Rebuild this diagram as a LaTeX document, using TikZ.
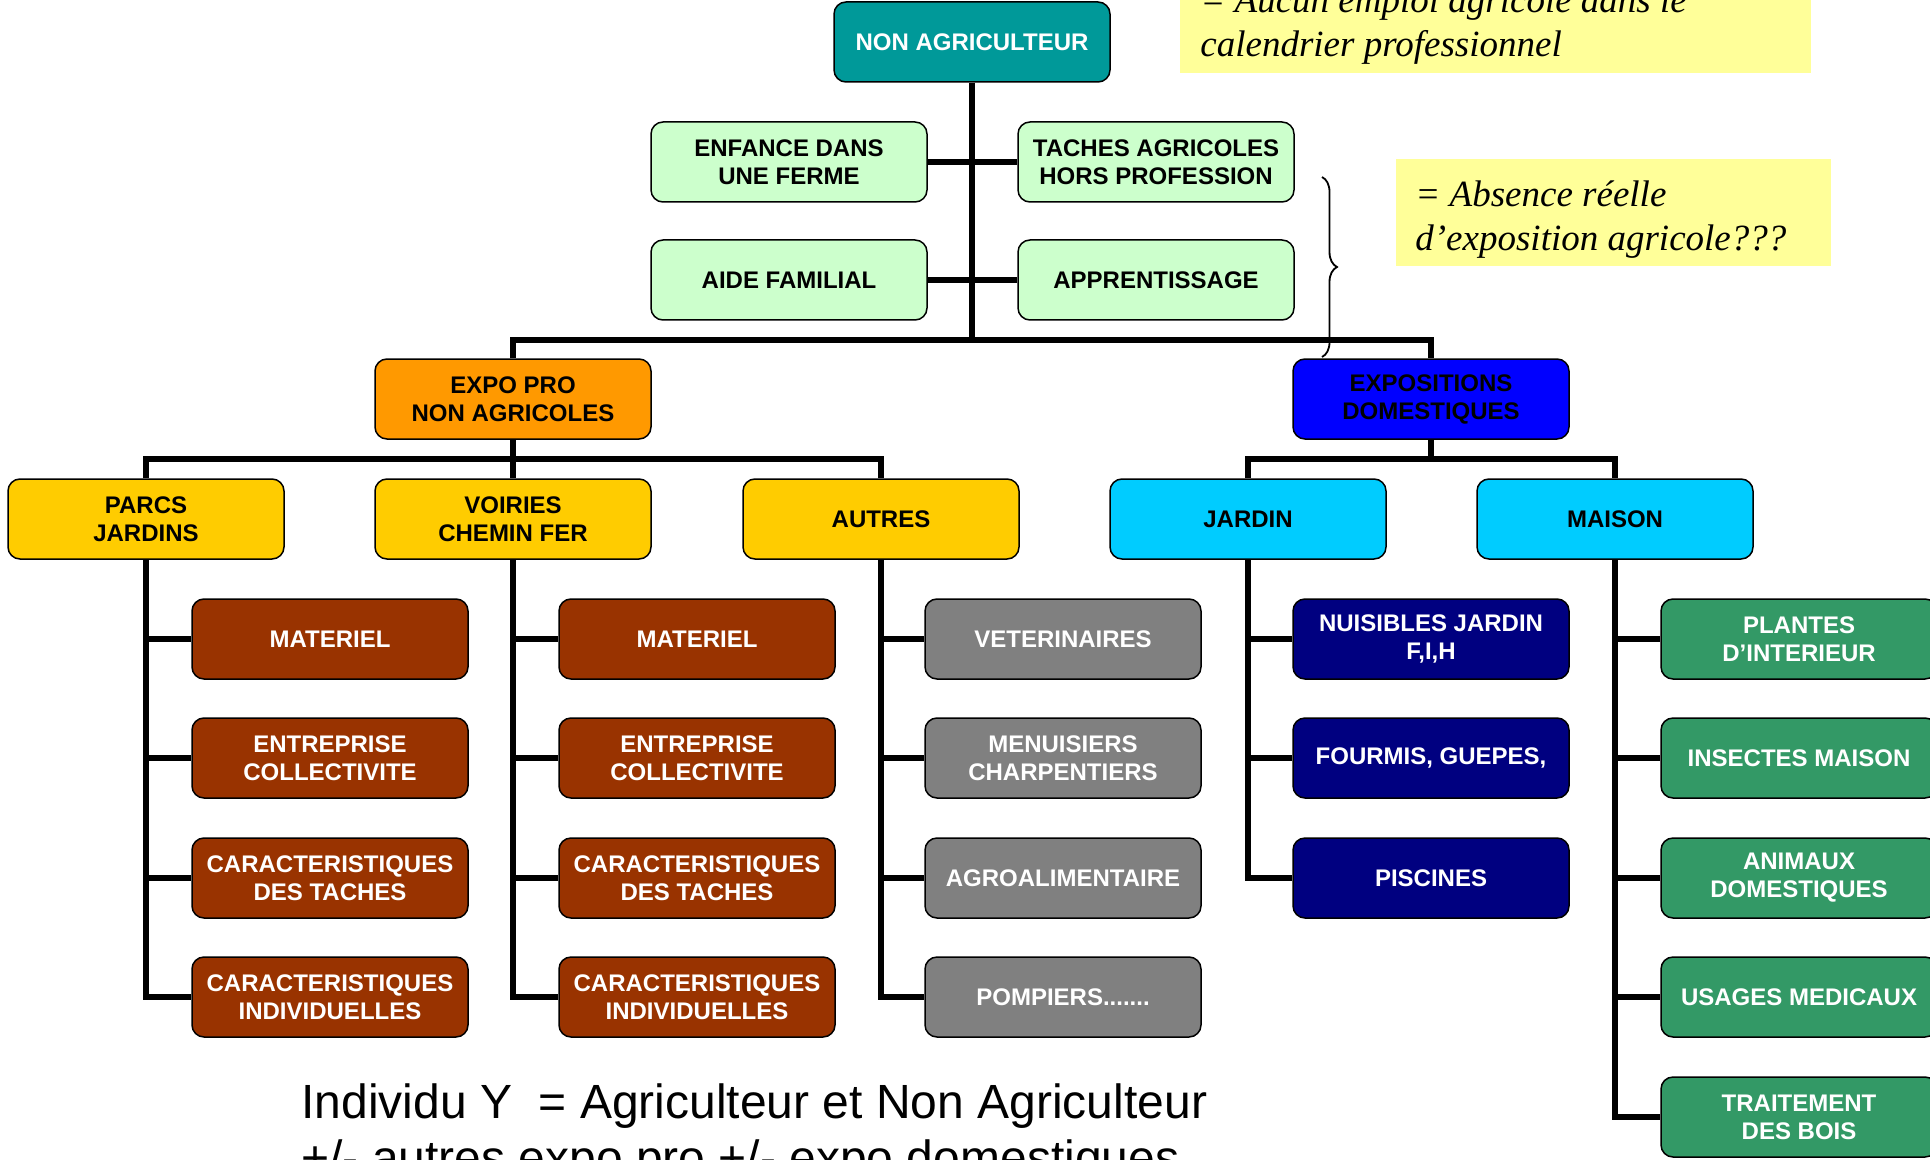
\documentclass[tikz,border=0pt]{standalone}
\usepackage{fontspec}
\setmainfont{Liberation Sans}
\newfontfamily\notefont{Liberation Serif}
\usetikzlibrary{decorations.pathreplacing}

\definecolor{tealbox}{HTML}{009999}
\definecolor{mintbox}{HTML}{CCFFCC}
\definecolor{orangebox}{HTML}{FF9900}
\definecolor{bluebox}{HTML}{0000FF}
\definecolor{goldbox}{HTML}{FFCC00}
\definecolor{skybox}{HTML}{00CCFF}
\definecolor{brownbox}{HTML}{993300}
\definecolor{greybox}{HTML}{808080}
\definecolor{navybox}{HTML}{000080}
\definecolor{leafbox}{HTML}{339966}
\definecolor{notefill}{HTML}{FFFF99}

\begin{document}
\begin{tikzpicture}[x=0.5pt,y=-0.5pt,
        box/.style={draw=black, line width=0.75pt, rounded corners=6pt,
            minimum width=138pt, minimum height=40pt, inner sep=0pt,
            align=center, font=\bfseries\fontsize{12}{14}\selectfont},
        darkbox/.style={box, text=white},
        link/.style={line width=3pt},
        notetext/.style={anchor=base west, inner sep=0pt,
            font=\notefont\itshape\fontsize{18.5}{22}\selectfont}]
                                    \clip (0,0) rectangle (1930,1160);

                                    % Draw the yellow notes
                                    \fill[notefill] (1180,-20) rectangle (1811,73);
                                    \node[notetext] (aucun1) at (1200,13) {= Aucun emploi agricole dans le};
                                    \node[notetext] (aucun2) at (1200,57) {calendrier professionnel};
                                    \fill[notefill] (1396,159) rectangle (1831,266);
                                    \node[notetext] (absence1) at (1415,207) {= Absence réelle};
                                    \node[notetext] (absence2) at (1415,251) {d’exposition agricole???};
                                    \draw[line width=0.9pt, decorate, decoration={brace, amplitude=7.5pt}] (1322,177) -- (1322,357);

                                    % Draw the top of the tree
                                    \node[darkbox, fill=tealbox] (nonagri) at (972,42) {NON AGRICULTEUR};
                                    \node[box, fill=mintbox] (enfance) at (789,162) {ENFANCE DANS\\UNE FERME};
                                    \node[box, fill=mintbox] (taches) at (1156,162) {TACHES AGRICOLES\\HORS PROFESSION};
                                    \node[box, fill=mintbox] (aide) at (789,280) {AIDE FAMILIAL};
                                    \node[box, fill=mintbox] (apprent) at (1156,280) {APPRENTISSAGE};
                                    \node[box, fill=orangebox] (expopro) at (513,399) {EXPO PRO\\NON AGRICOLES};
                                    \node[box, fill=bluebox] (expodom) at (1431,399) {EXPOSITIONS\\DOMESTIQUES};

                                    % Draw the second level
                                    \node[box, fill=goldbox] (parcs) at (146,519) {PARCS\\JARDINS};
                                    \node[box, fill=goldbox] (voiries) at (513,519) {VOIRIES\\CHEMIN FER};
                                    \node[box, fill=goldbox] (autres) at (881,519) {AUTRES};
                                    \node[box, fill=skybox] (jardin) at (1248,519) {JARDIN};
                                    \node[box, fill=skybox] (maison) at (1615,519) {MAISON};

                                    % Draw the leaves
                                    \node[darkbox, fill=brownbox] (parcsmat) at (330,639) {MATERIEL};
                                    \node[darkbox, fill=brownbox] (parcsent) at (330,758) {ENTREPRISE\\COLLECTIVITE};
                                    \node[darkbox, fill=brownbox] (parcstach) at (330,878) {CARACTERISTIQUES\\DES TACHES};
                                    \node[darkbox, fill=brownbox] (parcsind) at (330,997) {CARACTERISTIQUES\\INDIVIDUELLES};
                                    \node[darkbox, fill=brownbox] (voiriesmat) at (697,639) {MATERIEL};
                                    \node[darkbox, fill=brownbox] (voiriesent) at (697,758) {ENTREPRISE\\COLLECTIVITE};
                                    \node[darkbox, fill=brownbox] (voiriestach) at (697,878) {CARACTERISTIQUES\\DES TACHES};
                                    \node[darkbox, fill=brownbox] (voiriesind) at (697,997) {CARACTERISTIQUES\\INDIVIDUELLES};
                                    \node[darkbox, fill=greybox] (veto) at (1063,639) {VETERINAIRES};
                                    \node[darkbox, fill=greybox] (menuis) at (1063,758) {MENUISIERS\\CHARPENTIERS};
                                    \node[darkbox, fill=greybox] (agro) at (1063,878) {AGROALIMENTAIRE};
                                    \node[darkbox, fill=greybox] (pompiers) at (1063,997) {POMPIERS.......};
                                    \node[darkbox, fill=navybox] (nuisibles) at (1431,639) {NUISIBLES JARDIN\\F,I,H};
                                    \node[darkbox, fill=navybox] (fourmis) at (1431,758) {FOURMIS, GUEPES,};
                                    \node[darkbox, fill=navybox] (piscines) at (1431,878) {PISCINES};
                                    \node[darkbox, fill=leafbox] (plantes) at (1799,639) {PLANTES\\D’INTERIEUR};
                                    \node[darkbox, fill=leafbox] (insectes) at (1799,758) {INSECTES MAISON};
                                    \node[darkbox, fill=leafbox] (animaux) at (1799,878) {ANIMAUX\\DOMESTIQUES};
                                    \node[darkbox, fill=leafbox] (usages) at (1799,997) {USAGES MEDICAUX};
                                    \node[darkbox, fill=leafbox] (bois) at (1799,1117) {TRAITEMENT\\DES BOIS};

                                    % Draw the connectors
                                    \coordinate (topbar) at (972,340);
                                    \draw[link] (nonagri.south) -- (topbar);
                                    \draw[link] (expopro.north) |- (topbar) -| (expodom.north);
                                    \draw[link] (enfance.east) -- (enfance.east -| topbar);
                                    \draw[link] (taches.west) -- (taches.west -| topbar);
                                    \draw[link] (aide.east) -- (aide.east -| topbar);
                                    \draw[link] (apprent.west) -- (apprent.west -| topbar);
                                    \coordinate (probar) at (513,459);
                                    \draw[link] (expopro.south) -- (probar);
                                    \draw[link] (parcs.north) |- (probar) -| (autres.north);
                                    \draw[link] (probar) -- (voiries.north);
                                    \coordinate (dombar) at (1431,459);
                                    \draw[link] (expodom.south) -- (dombar);
                                    \draw[link] (jardin.north) |- (dombar) -| (maison.north);
                                    \draw[link] (parcs.south) |- (parcsmat.west);
                                    \draw[link] (parcs.south) |- (parcsent.west);
                                    \draw[link] (parcs.south) |- (parcstach.west);
                                    \draw[link] (parcs.south) |- (parcsind.west);
                                    \draw[link] (voiries.south) |- (voiriesmat.west);
                                    \draw[link] (voiries.south) |- (voiriesent.west);
                                    \draw[link] (voiries.south) |- (voiriestach.west);
                                    \draw[link] (voiries.south) |- (voiriesind.west);
                                    \draw[link] (autres.south) |- (veto.west);
                                    \draw[link] (autres.south) |- (menuis.west);
                                    \draw[link] (autres.south) |- (agro.west);
                                    \draw[link] (autres.south) |- (pompiers.west);
                                    \draw[link] (jardin.south) |- (nuisibles.west);
                                    \draw[link] (jardin.south) |- (fourmis.west);
                                    \draw[link] (jardin.south) |- (piscines.west);
                                    \draw[link] (maison.south) |- (plantes.west);
                                    \draw[link] (maison.south) |- (insectes.west);
                                    \draw[link] (maison.south) |- (animaux.west);
                                    \draw[link] (maison.south) |- (usages.west);
                                    \draw[link] (maison.south) |- (bois.west);

                                    % Draw the caption
                                    \node[anchor=base west, inner sep=0pt, font=\fontsize{24}{28}\selectfont] (legend1) at (301,1118) {Individu Y\ \ = Agriculteur et Non Agriculteur};
                                    \node[anchor=base west, inner sep=0pt, font=\fontsize{24}{28}\selectfont] (legend2) at (301,1174) {+/- autres expo pro +/- expo domestiques};
                              \end{tikzpicture}
\end{document}
